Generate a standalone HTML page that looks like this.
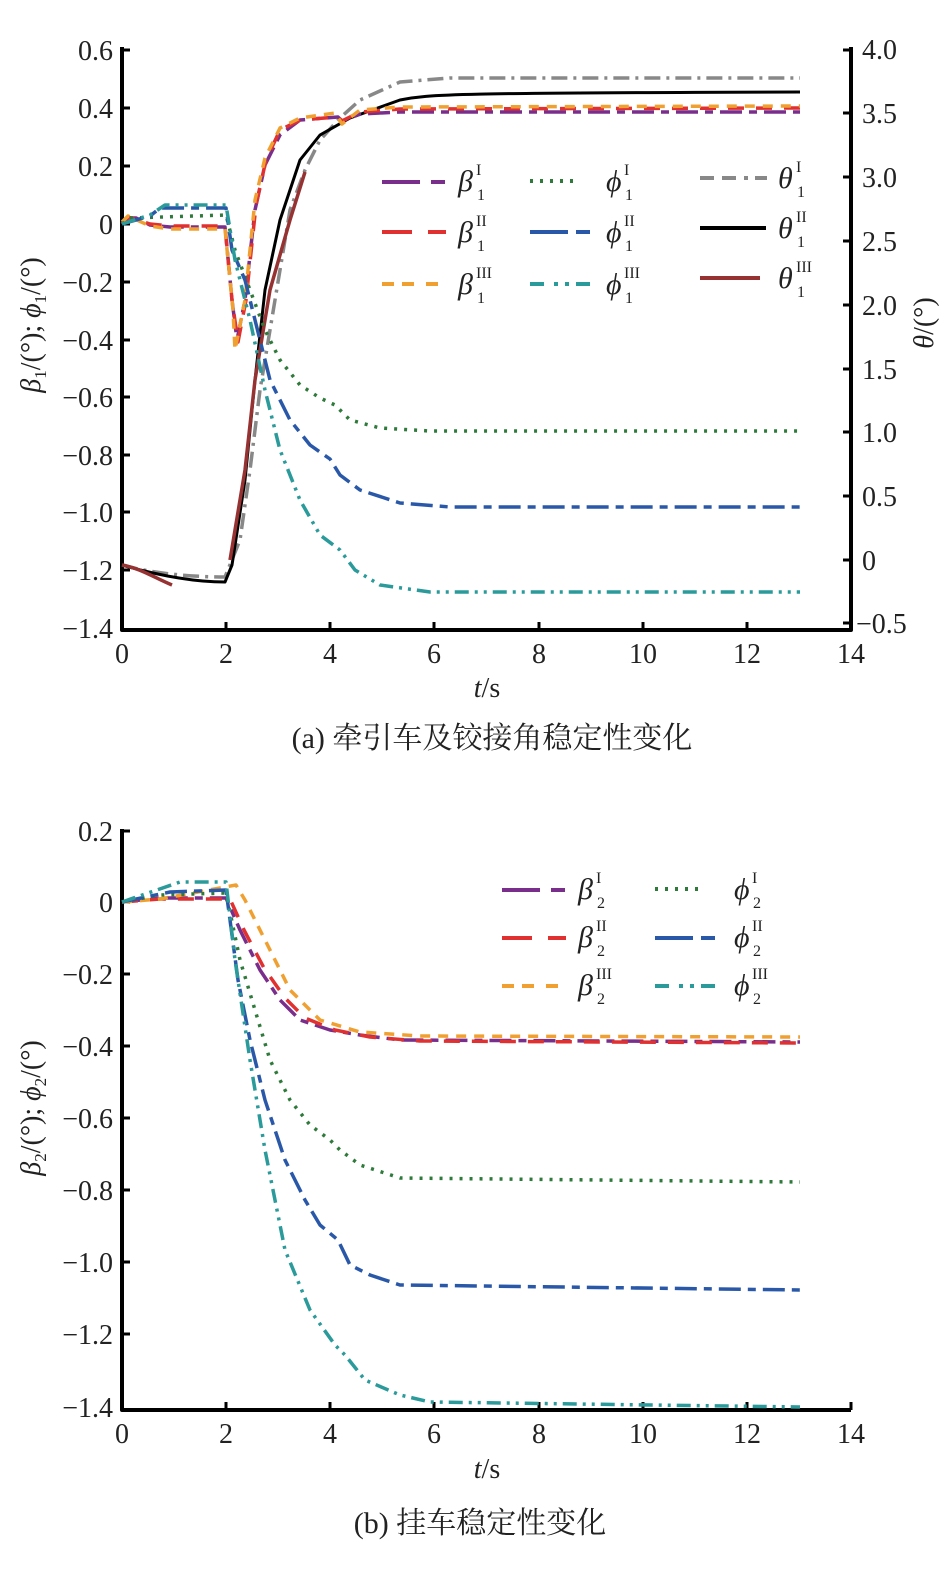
<!DOCTYPE html>
<html><head><meta charset="utf-8"><style>
body{margin:0;background:#fff}
svg text{font-family:"Liberation Serif","Noto Serif CJK SC",serif;fill:#222}
</style></head><body>
<svg width="945" height="1571" viewBox="0 0 945 1571" xmlns="http://www.w3.org/2000/svg">
<g fill="none" stroke-linejoin="round" stroke-linecap="butt">
<path d="M122 47 V630 H851 V47" stroke="#000" stroke-width="4"/>
<g stroke="#000" stroke-width="3">
<path d="M122 50h8M122 108h8M122 166h8M122 224h8M122 282h8M122 340h8M122 397h8M122 455h8M122 512h8M122 570h8"/>
<path d="M851 50h-8M851 113h-8M851 177h-8M851 241h-8M851 305h-8M851 369h-8M851 432h-8M851 496h-8M851 560h-8M851 623h-8"/>
<path d="M226 630v-8M330 630v-8M434 630v-8M539 630v-8M643 630v-8M747 630v-8"/>
</g>
<path d="M122 565 C150 573 190 577 225 577 L240 540 L250 470 L260 390 L275 300 L290 210 L305 170 L320 140 L340 118 L360 100 L400 82 L450 78 L800 78" stroke="#888" stroke-width="3.5" stroke-dasharray="16 6 3 6"/>
<path d="M122 565 C150 573 190 582 225 582 L232 565 L245 480 L255 380 L265 290 L280 220 L300 160 L320 135 L350 118 L400 100 C430 94 450 93 800 92" stroke="#000" stroke-width="3"/>
<path d="M122 565 C140 568 155 578 172 585 M230 560 L245 470 L255 380 L270 290 L290 220 L305 172" stroke="#963232" stroke-width="3.5"/>
<path d="M122 224 L128 218 L136 218 L150 225 L170 227 L225 227 L232 300 L237 340 L245 300 L255 210 L265 165 L280 135 L300 120 L338 117 L342 121 L360 114 L400 112 L800 112" stroke="#7a2e8c" stroke-width="3.5" stroke-dasharray="22 7 8 7"/>
<path d="M122 224 L128 217 L150 224 L170 226 L225 226 L232 300 L238 342 L246 300 L256 205 L266 160 L280 130 L300 120 L338 117 L342 121 L360 112 L400 109 L800 108" stroke="#e03030" stroke-width="3.5" stroke-dasharray="16 12"/>
<path d="M122 222 L128 216 L150 226 L170 229 L225 229 L233 310 L235 350 L245 300 L255 200 L265 158 L280 128 L300 118 L335 113 L342 124 L360 110 L400 107 L800 106" stroke="#f0a030" stroke-width="3.5" stroke-dasharray="10 8"/>
<path d="M122 224 L130 218 L226 215 L235 250 L250 290 L265 330 L280 360 L300 385 L320 398 L335 405 L350 420 L380 428 L430 431 L800 431" stroke="#2e7a3a" stroke-width="3.5" stroke-dasharray="3 7"/>
<path d="M122 224 L150 216 L160 208 L226 208 L232 250 L245 280 L255 320 L270 380 L290 420 L310 445 L330 459 L340 475 L360 490 L400 503 L450 507 L800 507" stroke="#2a58a8" stroke-width="3.5" stroke-dasharray="22 7 8 7"/>
<path d="M122 224 L150 215 L165 205 L226 205 L235 260 L250 320 L265 390 L280 450 L300 500 L320 535 L340 550 L355 570 L380 585 L430 592 L800 592" stroke="#2a9a9a" stroke-width="3.5" stroke-dasharray="14 6 3 6 3 6"/>
<path d="M382 182h38M431 182h14" stroke="#7a2e8c" stroke-width="4"/>
<path d="M382 232h30M428 232h18" stroke="#e03030" stroke-width="4"/>
<path d="M382 284h12M402 284h12M426 284h12" stroke="#f0a030" stroke-width="4"/>
<path d="M530 181h44" stroke="#2e7a3a" stroke-width="4" stroke-dasharray="3 7"/>
<path d="M530 232h38M576 232h14" stroke="#2a58a8" stroke-width="4"/>
<path d="M530 284h14M554 284h4M565 284h4M576 284h14" stroke="#2a9a9a" stroke-width="4"/>
<path d="M700 178h14M722 178h14M744 178h4M755 178h12" stroke="#888" stroke-width="4"/>
<path d="M700 228h66" stroke="#000" stroke-width="4"/>
<path d="M700 278h60" stroke="#963232" stroke-width="4"/>

<path d="M122 829 V1410 H851" stroke="#000" stroke-width="4"/>
<g stroke="#000" stroke-width="3">
<path d="M122 831h8M122 902h8M122 974h8M122 1046h8M122 1118h8M122 1190h8M122 1262h8M122 1334h8"/>
<path d="M226 1410v-8M330 1410v-8M434 1410v-8M539 1410v-8M643 1410v-8M747 1410v-8M851 1410v-8"/>
</g>
<path d="M122 902 L160 898 L226 898 L240 930 L260 970 L280 1000 L300 1020 L330 1030 L360 1035 L400 1040 L800 1042" stroke="#7a2e8c" stroke-width="3.5" stroke-dasharray="22 7 8 7"/>
<path d="M122 902 L160 899 L230 899 L244 930 L264 968 L285 998 L305 1018 L335 1030 L370 1037 L420 1041 L800 1043" stroke="#e03030" stroke-width="3.5" stroke-dasharray="16 12"/>
<path d="M122 902 L160 899 L236 885 L245 900 L265 940 L290 990 L320 1020 L360 1032 L420 1036 L800 1037" stroke="#f0a030" stroke-width="3.5" stroke-dasharray="10 8"/>
<path d="M122 902 L160 895 L226 893 L240 960 L255 1010 L270 1060 L290 1100 L310 1125 L330 1140 L340 1150 L360 1165 L400 1178 L800 1182" stroke="#2e7a3a" stroke-width="3.5" stroke-dasharray="3 7"/>
<path d="M122 902 L170 892 L226 890 L238 980 L250 1040 L265 1100 L285 1160 L305 1200 L320 1225 L338 1240 L350 1265 L370 1275 L400 1285 L800 1290" stroke="#2a58a8" stroke-width="3.5" stroke-dasharray="22 7 8 7"/>
<path d="M122 902 L180 882 L226 882 L235 960 L250 1060 L265 1150 L285 1250 L310 1310 L335 1345 L345 1355 L365 1380 L400 1395 L430 1402 L800 1407" stroke="#2a9a9a" stroke-width="3.5" stroke-dasharray="14 6 3 6 3 6"/>
<path d="M502 890h38M551 890h14" stroke="#7a2e8c" stroke-width="4"/>
<path d="M502 938h30M548 938h18" stroke="#e03030" stroke-width="4"/>
<path d="M502 986h12M522 986h12M546 986h12" stroke="#f0a030" stroke-width="4"/>
<path d="M655 889h44" stroke="#2e7a3a" stroke-width="4" stroke-dasharray="3 7"/>
<path d="M655 938h38M701 938h14" stroke="#2a58a8" stroke-width="4"/>
<path d="M655 986h14M679 986h4M690 986h4M701 986h14" stroke="#2a9a9a" stroke-width="4"/>
</g>

<g font-size="28" text-anchor="end">
<text x="113" y="60">0.6</text><text x="113" y="118">0.4</text><text x="113" y="176">0.2</text><text x="113" y="234">0</text>
<text x="113" y="292">−0.2</text><text x="113" y="350">−0.4</text><text x="113" y="407">−0.6</text><text x="113" y="465">−0.8</text>
<text x="113" y="522">−1.0</text><text x="113" y="580">−1.2</text><text x="113" y="638">−1.4</text>
<text x="113" y="841">0.2</text><text x="113" y="912">0</text><text x="113" y="984">−0.2</text><text x="113" y="1056">−0.4</text>
<text x="113" y="1128">−0.6</text><text x="113" y="1200">−0.8</text><text x="113" y="1272">−1.0</text><text x="113" y="1344">−1.2</text><text x="113" y="1417">−1.4</text>
</g>
<g font-size="28" text-anchor="start">
<text x="862" y="59">4.0</text><text x="862" y="123">3.5</text><text x="862" y="187">3.0</text><text x="862" y="251">2.5</text>
<text x="862" y="315">2.0</text><text x="862" y="379">1.5</text><text x="862" y="442">1.0</text><text x="862" y="506">0.5</text>
<text x="862" y="570">0</text><text x="856" y="633">−0.5</text>
</g>
<g font-size="28" text-anchor="middle">
<text x="122" y="663">0</text><text x="226" y="663">2</text><text x="330" y="663">4</text><text x="434" y="663">6</text>
<text x="539" y="663">8</text><text x="643" y="663">10</text><text x="747" y="663">12</text><text x="851" y="663">14</text>
<text x="122" y="1443">0</text><text x="226" y="1443">2</text><text x="330" y="1443">4</text><text x="434" y="1443">6</text>
<text x="539" y="1443">8</text><text x="643" y="1443">10</text><text x="747" y="1443">12</text><text x="851" y="1443">14</text>
<text x="487" y="697"><tspan font-style="italic">t</tspan>/s</text>
<text x="487" y="1478"><tspan font-style="italic">t</tspan>/s</text>
<text x="492" y="748" font-size="30">(a) 牵引车及铰接角稳定性变化</text>
<text x="480" y="1533" font-size="30">(b) 挂车稳定性变化</text>
</g>
<text transform="translate(40 325) rotate(-90)" font-size="28" text-anchor="middle"><tspan font-style="italic">β</tspan><tspan font-size="17" dy="6">1</tspan><tspan dy="-6">/(°); </tspan><tspan font-style="italic">ϕ</tspan><tspan font-size="17" dy="6">1</tspan><tspan dy="-6">/(°)</tspan></text>
<text transform="translate(40 1108) rotate(-90)" font-size="28" text-anchor="middle"><tspan font-style="italic">β</tspan><tspan font-size="17" dy="6">2</tspan><tspan dy="-6">/(°); </tspan><tspan font-style="italic">ϕ</tspan><tspan font-size="17" dy="6">2</tspan><tspan dy="-6">/(°)</tspan></text>
<text transform="translate(933 323) rotate(-90)" font-size="28" text-anchor="middle"><tspan font-style="italic">θ</tspan>/(°)</text>
<g font-size="30" font-style="italic">
<text x="458" y="191">β</text><text x="458" y="242">β</text><text x="458" y="294">β</text>
<text x="606" y="191">ϕ</text><text x="606" y="242">ϕ</text><text x="606" y="294">ϕ</text>
<text x="778" y="188">θ</text><text x="778" y="238">θ</text><text x="778" y="288">θ</text>
<text x="578" y="899">β</text><text x="578" y="947">β</text><text x="578" y="995">β</text>
<text x="734" y="899">ϕ</text><text x="734" y="947">ϕ</text><text x="734" y="995">ϕ</text>
</g>
<g font-size="16">
<text x="476" y="175">I</text><text x="477" y="200">1</text>
<text x="476" y="226">II</text><text x="477" y="251">1</text>
<text x="476" y="278">III</text><text x="477" y="303">1</text>
<text x="624" y="175">I</text><text x="625" y="200">1</text>
<text x="624" y="226">II</text><text x="625" y="251">1</text>
<text x="624" y="278">III</text><text x="625" y="303">1</text>
<text x="796" y="172">I</text><text x="797" y="197">1</text>
<text x="796" y="222">II</text><text x="797" y="247">1</text>
<text x="796" y="272">III</text><text x="797" y="297">1</text>
<text x="596" y="883">I</text><text x="597" y="908">2</text>
<text x="596" y="931">II</text><text x="597" y="956">2</text>
<text x="596" y="979">III</text><text x="597" y="1004">2</text>
<text x="752" y="883">I</text><text x="753" y="908">2</text>
<text x="752" y="931">II</text><text x="753" y="956">2</text>
<text x="752" y="979">III</text><text x="753" y="1004">2</text>
</g>
</svg>
</body></html>
